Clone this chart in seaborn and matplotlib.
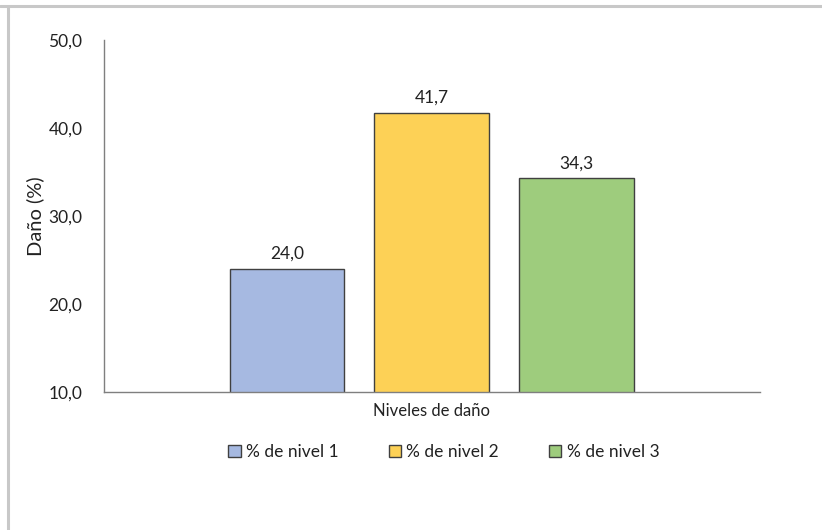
import matplotlib
matplotlib.use("Agg")
import matplotlib.pyplot as plt
from matplotlib.lines import Line2D
from matplotlib.ticker import FuncFormatter, MultipleLocator
import pandas as pd
import seaborn as sns

# Data
category = ["Niveles de daño"]
series = ["% de nivel 1", "% de nivel 2", "% de nivel 3"]
values = [24.0, 41.7, 34.3]
colors = ["#A6B9E1", "#FDD156", "#9ECC7D"]

sns.set_theme(style="white")
plt.rcParams["font.family"] = ["Lato", "DejaVu Sans"]

df = pd.DataFrame({
    "grupo": category * len(series),
    "serie": series,
    "valor": values,
})

fig = plt.figure(figsize=(8.22, 5.30), dpi=100)
ax = fig.add_axes([0.1265, 0.2604, 0.798, 0.6641])

sns.barplot(data=df, x="grupo", y="valor", hue="serie", hue_order=series,
            palette=colors, width=0.663, gap=0.207, edgecolor="#404040",
            linewidth=1.0, saturation=1, ax=ax, legend=True)

def coma(v, _=None):
    return f"{v:.1f}".replace(".", ",")

for cont in ax.containers:
    ax.bar_label(cont, labels=[coma(v) for v in cont.datavalues],
                 padding=5, fontsize=12.5, color="#222222")

ax.set_ylim(10, 50)
ax.set_xlim(-0.5, 0.5)
ax.yaxis.set_major_locator(MultipleLocator(10))
ax.yaxis.set_major_formatter(FuncFormatter(coma))
ax.tick_params(axis="y", labelsize=12.5, labelcolor="#222222", length=0, pad=15.5)
ax.set_xticks([])
ax.set_xlabel("Niveles de daño", fontsize=12, color="#222222", labelpad=8)
ax.set_ylabel("Daño (%)", fontsize=14.5, color="#222222", labelpad=3)

for side in ["top", "right"]:
    ax.spines[side].set_visible(False)
for side in ["left", "bottom"]:
    ax.spines[side].set_color("#7f7f7f")
    ax.spines[side].set_linewidth(1.0)

handles, labels = ax.get_legend_handles_labels()
ax.legend_.remove()
leg = fig.legend(handles, labels, loc="center", bbox_to_anchor=(0.54, 0.147),
                 ncol=3, frameon=False, fontsize=12.5, handlelength=0.7,
                 handleheight=0.7, handletextpad=0.3, columnspacing=2.9)
for t in leg.get_texts():
    t.set_color("#222222")

# outer frame lines
fig.add_artist(Line2D([0, 1], [0.9885, 0.9885], transform=fig.transFigure,
                      color="#c8c8c8", linewidth=2.2))
fig.add_artist(Line2D([0.0097, 0.0097], [0, 0.9885], transform=fig.transFigure,
                      color="#c8c8c8", linewidth=2.2))

fig.savefig("out.png", dpi=100, facecolor="white")
